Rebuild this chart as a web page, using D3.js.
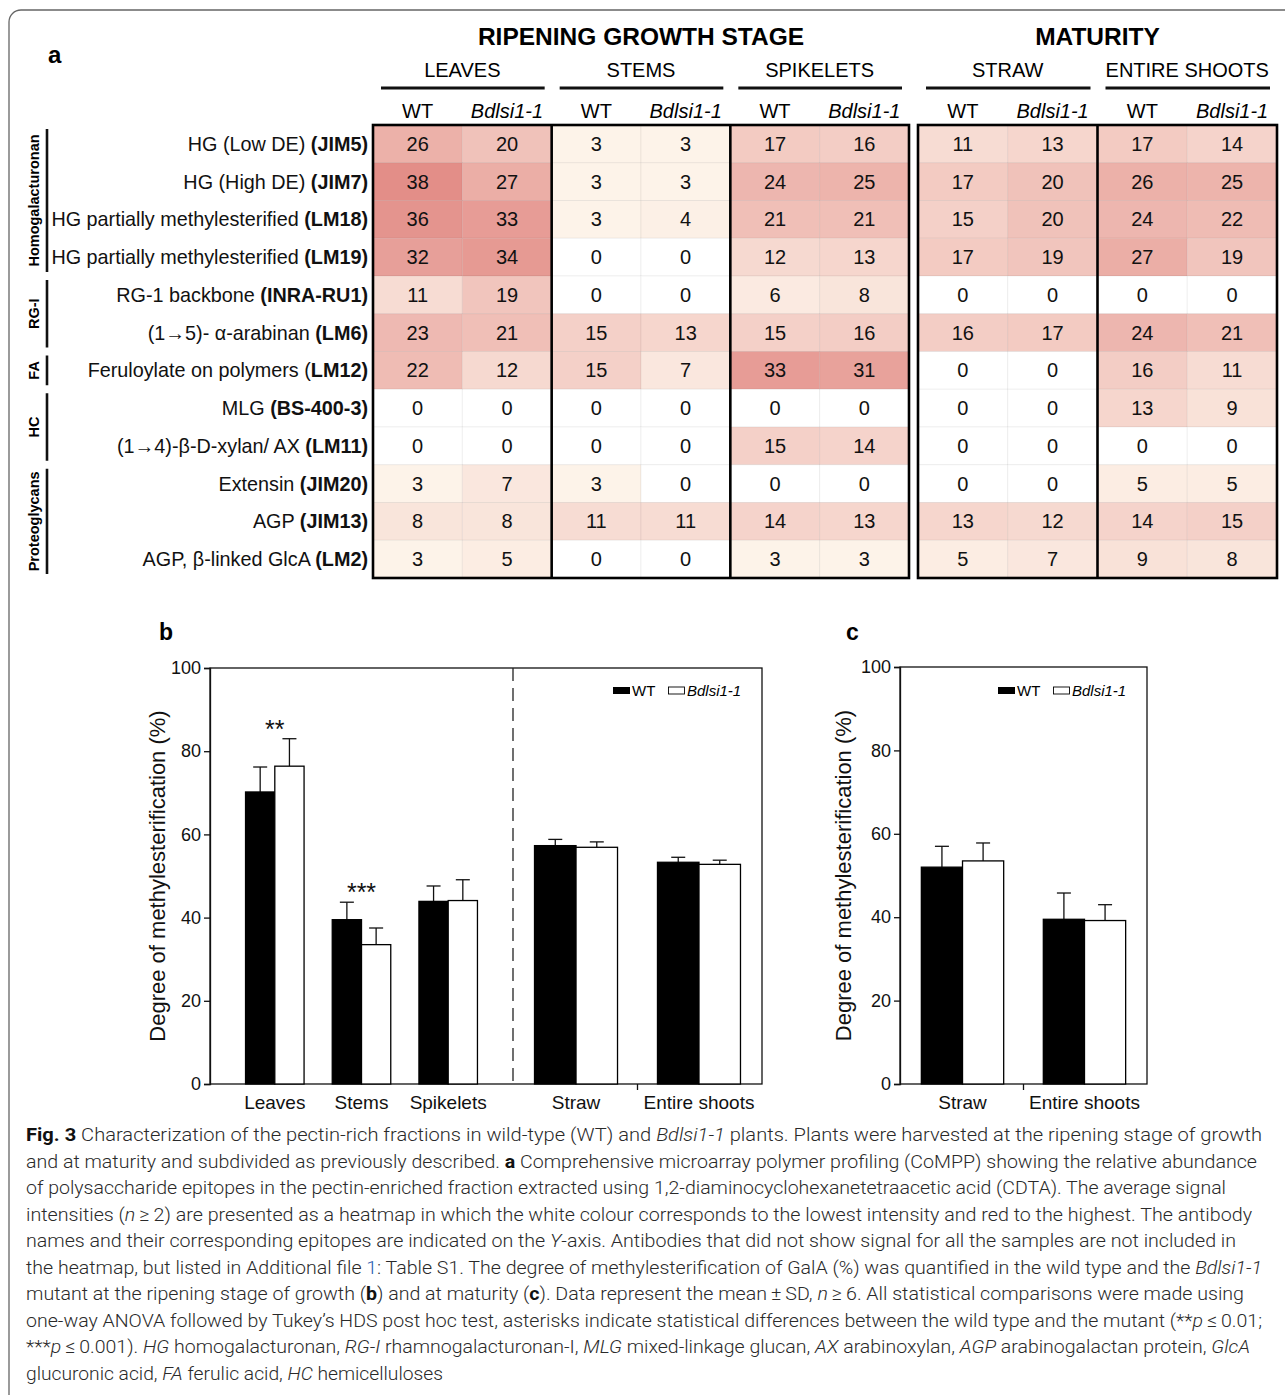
<!DOCTYPE html>
<html><head><meta charset="utf-8">
<script src="https://cdn.jsdelivr.net/npm/d3@7"></script>
<style>body{margin:0;background:#fff} svg{display:block}</style>
</head><body>
<svg id="fig" width="1285" height="1395"></svg>
<script>
// ---------------- DATA ----------------
const stageHeaders = ["RIPENING GROWTH STAGE", "MATURITY"];
const tissuesRip = ["LEAVES", "STEMS", "SPIKELETS"];
const tissuesMat = ["STRAW", "ENTIRE SHOOTS"];
const genotypes = ["WT", "Bdlsi1-1"];
const rowPrefix = ["HG (Low DE) ", "HG (High DE) ", "HG partially methylesterified ", "HG partially methylesterified ",
  "RG-1 backbone ", "(1\u21925)- \u03b1-arabinan ", "Feruloylate on polymers (", "MLG ", "(1\u21924)-\u03b2-D-xylan/ AX ",
  "Extensin ", "AGP ", "AGP, \u03b2-linked GlcA "];
const rowBold = ["(JIM5)", "(JIM7)", "(LM18)", "(LM19)", "(INRA-RU1)", "(LM6)", "LM12)", "(BS-400-3)", "(LM11)",
  "(JIM20)", "(JIM13)", "(LM2)"];
const groupNames = ["Homogalacturonan", "RG-I", "FA", "HC", "Proteoglycans"];
const groupFirstRow = [0, 4, 6, 7, 9];
const groupLastRow = [3, 5, 6, 8, 11];
// columns: Leaves WT, Leaves mut, Stems WT, Stems mut, Spikelets WT, Spikelets mut | Straw WT, Straw mut, Shoots WT, Shoots mut
const heatValues = [
  [26, 20, 3, 3, 17, 16, 11, 13, 17, 14],
  [38, 27, 3, 3, 24, 25, 17, 20, 26, 25],
  [36, 33, 3, 4, 21, 21, 15, 20, 24, 22],
  [32, 34, 0, 0, 12, 13, 17, 19, 27, 19],
  [11, 19, 0, 0, 6, 8, 0, 0, 0, 0],
  [23, 21, 15, 13, 15, 16, 16, 17, 24, 21],
  [22, 12, 15, 7, 33, 31, 0, 0, 16, 11],
  [0, 0, 0, 0, 0, 0, 0, 0, 13, 9],
  [0, 0, 0, 0, 15, 14, 0, 0, 0, 0],
  [3, 7, 3, 0, 0, 0, 0, 0, 5, 5],
  [8, 8, 11, 11, 14, 13, 13, 12, 14, 15],
  [3, 5, 0, 0, 3, 3, 5, 7, 9, 8]
];

const barCatsRip = ["Leaves", "Stems", "Spikelets"];
const barCatsMat = ["Straw", "Entire shoots"];
const bWT = [70.2, 39.5, 43.9, 57.3, 53.3];
const bWTsd = [6.0, 4.2, 3.7, 1.5, 1.2];
const bMut = [76.4, 33.5, 44.1, 56.9, 52.8];
const bMutsd = [6.6, 4.0, 5.0, 1.3, 1.0];
const bSig = ["**", "***", "", "", ""];
const cWT = [52.0, 39.5];
const cWTsd = [5.0, 6.3];
const cMut = [53.5, 39.2];
const cMutsd = [4.3, 3.8];
const yTicks = [0, 20, 40, 60, 80, 100];
const yLabel = "Degree of methylesterification (%)";

const captionLines = [
  [["b", "Fig. 3"], ["n", "  Characterization of the pectin-rich fractions in wild-type (WT) and "], ["i", "Bdlsi1-1"], ["n", " plants. Plants were harvested at the ripening stage of growth"]],
  [["n", "and at maturity and subdivided as previously described. "], ["b", "a"], ["n", " Comprehensive microarray polymer profiling (CoMPP) showing the relative abundance"]],
  [["n", "of polysaccharide epitopes in the pectin-enriched fraction extracted using 1,2-diaminocyclohexanetetraacetic acid (CDTA). The average signal"]],
  [["n", "intensities ("], ["i", "n"], ["n", "\u2009\u2265\u20092) are presented as a heatmap in which the white colour corresponds to the lowest intensity and red to the highest. The antibody"]],
  [["n", "names and their corresponding epitopes are indicated on the "], ["i", "Y"], ["n", "-axis. Antibodies that did not show signal for all the samples are not included in"]],
  [["n", "the heatmap, but listed in Additional file "], ["l", "1"], ["n", ": Table S1. The degree of methylesterification of GalA (%) was quantified in the wild type and the "], ["i", "Bdlsi1-1"]],
  [["n", "mutant at the ripening stage of growth ("], ["b", "b"], ["n", ") and at maturity ("], ["b", "c"], ["n", "). Data represent the mean\u2009\u00b1\u2009SD, "], ["i", "n"], ["n", "\u2009\u2265\u20096. All statistical comparisons were made using"]],
  [["n", "one-way ANOVA followed by Tukey\u2019s HDS post hoc test, asterisks indicate statistical differences between the wild type and the mutant (**"], ["i", "p"], ["n", "\u2009\u2264\u20090.01;"]],
  [["n", "***"], ["i", "p"], ["n", "\u2009\u2264\u20090.001). "], ["i", "HG"], ["n", " homogalacturonan, "], ["i", "RG-I"], ["n", " rhamnogalacturonan-I, "], ["i", "MLG"], ["n", " mixed-linkage glucan, "], ["i", "AX"], ["n", " arabinoxylan, "], ["i", "AGP"], ["n", " arabinogalactan protein, "], ["i", "GlcA"]],
  [["n", "glucuronic acid, "], ["i", "FA"], ["n", " ferulic acid, "], ["i", "HC"], ["n", " hemicelluloses"]]
];
const captionLineEnds = [1262, 1257, 1226, 1252, 1236, 1262, 1244, 1262, 1250, 443];

// ---------------- DRAWING ----------------
const svg = d3.select("#fig");
const FONT = "'Liberation Sans', Arial, Helvetica, sans-serif";
svg.attr("font-family", FONT);

// outer frame
svg.append("rect").attr("x", 9).attr("y", 10).attr("width", 1320).attr("height", 1420)
  .attr("rx", 12).attr("fill", "none").attr("stroke", "#666").attr("stroke-width", 1.3);

// ---------- heatmap (a) ----------
const hm = svg.append("g");
const xRip = d3.scaleBand().domain(d3.range(6)).range([373, 909]);
const xMat = d3.scaleBand().domain(d3.range(4)).range([918, 1277]);
const colX = c => c < 6 ? xRip(c) : xMat(c - 6);
const colW = c => c < 6 ? xRip.bandwidth() : xMat.bandwidth();
const yRow = d3.scaleBand().domain(d3.range(heatValues.length)).range([125, 578]);
const color = d3.scaleLinear().domain([0, 3, 38]).range(["#ffffff", "#fdf3e9", "#e38e88"]);

hm.append("text").attr("x", 48).attr("y", 63).attr("font-size", 24).attr("font-weight", "bold").text("a");

heatValues.forEach((row, r) => {
  row.forEach((v, c) => {
    hm.append("rect").attr("x", colX(c)).attr("y", yRow(r)).attr("width", colW(c)).attr("height", yRow.bandwidth())
      .attr("fill", color(v)).attr("stroke", "rgba(0,0,0,0.05)").attr("stroke-width", 1);
    hm.append("text").attr("x", colX(c) + colW(c) / 2).attr("y", yRow(r) + yRow.bandwidth() / 2 + 7)
      .attr("text-anchor", "middle").attr("font-size", 20).attr("fill", "#111").text(v);
  });
  const t = hm.append("text").attr("x", 368).attr("y", yRow(r) + yRow.bandwidth() / 2 + 7)
    .attr("text-anchor", "end").attr("font-size", 19.8).attr("fill", "#111");
  t.append("tspan").text(rowPrefix[r]);
  t.append("tspan").attr("font-weight", "bold").text(rowBold[r]);
});

// boxes
const boxStroke = 2.6;
hm.append("rect").attr("x", xRip(0)).attr("y", yRow.range()[0]).attr("width", xRip.range()[1] - xRip(0))
  .attr("height", yRow.range()[1] - yRow.range()[0]).attr("fill", "none").attr("stroke", "#000").attr("stroke-width", boxStroke);
hm.append("rect").attr("x", xMat(0)).attr("y", yRow.range()[0]).attr("width", xMat.range()[1] - xMat(0))
  .attr("height", yRow.range()[1] - yRow.range()[0]).attr("fill", "none").attr("stroke", "#000").attr("stroke-width", boxStroke);
[xRip(2), xRip(4), xMat(2)].forEach(x => {
  hm.append("line").attr("x1", x).attr("x2", x).attr("y1", yRow.range()[0]).attr("y2", yRow.range()[1])
    .attr("stroke", "#000").attr("stroke-width", boxStroke);
});

// headers
hm.append("text").attr("x", (xRip(0) + xRip.range()[1]) / 2).attr("y", 45).attr("text-anchor", "middle")
  .attr("font-size", 24.5).attr("font-weight", "bold").text(stageHeaders[0]);
hm.append("text").attr("x", (xMat(0) + xMat.range()[1]) / 2).attr("y", 45).attr("text-anchor", "middle")
  .attr("font-size", 24.5).attr("font-weight", "bold").text(stageHeaders[1]);
const tissueAll = tissuesRip.concat(tissuesMat);
tissueAll.forEach((name, i) => {
  const c0 = i * 2;
  const x0 = colX(c0), x1 = colX(c0 + 1) + colW(c0 + 1);
  hm.append("text").attr("x", (x0 + x1) / 2).attr("y", 77).attr("text-anchor", "middle").attr("font-size", 20).text(name);
  hm.append("line").attr("x1", x0 + 8).attr("x2", x1 - 7).attr("y1", 88).attr("y2", 88).attr("stroke", "#111").attr("stroke-width", 3);
  genotypes.forEach((gname, k) => {
    const c = c0 + k;
    hm.append("text").attr("x", colX(c) + colW(c) / 2).attr("y", 118).attr("text-anchor", "middle").attr("font-size", 20)
      .attr("font-style", k === 1 ? "italic" : "normal").text(gname);
  });
});

// group labels
groupNames.forEach((name, i) => {
  const y0 = yRow(groupFirstRow[i]) + 4, y1 = yRow(groupLastRow[i]) + yRow.bandwidth() - 4;
  hm.append("line").attr("x1", 47).attr("x2", 47).attr("y1", y0).attr("y2", y1).attr("stroke", "#111").attr("stroke-width", 2.6);
  hm.append("text").attr("transform", `translate(39,${(y0 + y1) / 2}) rotate(-90)`).attr("text-anchor", "middle")
    .attr("font-size", 14.5).attr("font-weight", "bold").text(name);
});

// ---------- bar charts ----------
function legend(g, x, y) {
  g.append("rect").attr("x", x).attr("y", y - 3).attr("width", 17).attr("height", 7).attr("fill", "#000");
  g.append("text").attr("x", x + 19).attr("y", y + 5.5).attr("font-size", 15).text(genotypes[0]);
  g.append("rect").attr("x", x + 55.5).attr("y", y - 3).attr("width", 16).attr("height", 7).attr("fill", "#fff").attr("stroke", "#000").attr("stroke-width", 0.9);
  g.append("text").attr("x", x + 74).attr("y", y + 5.5).attr("font-size", 15).attr("font-style", "italic").text(genotypes[1]);
}

function drawPanel(opts) {
  const g = svg.append("g");
  const y = d3.scaleLinear().domain([0, 100]).range([opts.bottom, opts.top]);
  // frame
  g.append("rect").attr("x", opts.left).attr("y", opts.top).attr("width", opts.right - opts.left).attr("height", opts.bottom - opts.top)
    .attr("fill", "none").attr("stroke", "#111").attr("stroke-width", 1.3);
  const ax = g.append("g").attr("transform", `translate(${opts.left},0)`)
    .call(d3.axisLeft(y).tickValues(yTicks).tickSize(6).tickPadding(3));
  ax.select(".domain").attr("stroke", "#111").attr("stroke-width", 1.3);
  ax.selectAll(".tick line").attr("stroke", "#111").attr("stroke-width", 1.3);
  ax.selectAll("text").attr("font-size", 18).attr("font-family", FONT).attr("fill", "#111");
  g.append("text").attr("transform", `translate(${opts.titleX},${(opts.top + opts.bottom) / 2}) rotate(-90)`)
    .attr("text-anchor", "middle").attr("font-size", 22).attr("fill", "#111").text(yLabel);
  g.append("text").attr("x", opts.letterX).attr("y", 640).attr("font-size", 23).attr("font-weight", "bold").text(opts.letter);

  opts.sections.forEach(sec => {
    const xb = d3.scaleBand().domain(sec.cats).range(sec.range).paddingInner(0.325).paddingOuter(sec.po).align(0.5);
    const xs = d3.scaleBand().domain(genotypes).range([0, xb.bandwidth()]);
    sec.cats.forEach((cat, i) => {
      const vals = [sec.wt[i], sec.mut[i]], sds = [sec.wtsd[i], sec.mutsd[i]];
      genotypes.forEach((gn, k) => {
        const bx = xb(cat) + xs(gn);
        // error bar (upper only)
        const cx = bx + xs.bandwidth() / 2;
        g.append("line").attr("x1", cx).attr("x2", cx).attr("y1", y(vals[k])).attr("y2", y(vals[k] + sds[k])).attr("stroke", "#111").attr("stroke-width", 1.3);
        g.append("line").attr("x1", cx - 7).attr("x2", cx + 7).attr("y1", y(vals[k] + sds[k])).attr("y2", y(vals[k] + sds[k])).attr("stroke", "#111").attr("stroke-width", 1.3);
        g.append("rect").attr("x", bx).attr("y", y(vals[k])).attr("width", xs.bandwidth()).attr("height", y(0) - y(vals[k]))
          .attr("fill", k === 0 ? "#000" : "#fff").attr("stroke", "#000").attr("stroke-width", 1.3);
      });
      g.append("text").attr("x", xb(cat) + xb.bandwidth() / 2).attr("y", opts.bottom + 25).attr("text-anchor", "middle")
        .attr("font-size", 19).attr("fill", "#111").text(cat);
      if (sec.sig && sec.sig[i]) {
        const top = Math.max(vals[0] + sds[0], vals[1] + sds[1]);
        g.append("text").attr("x", xb(cat) + xb.bandwidth() / 2).attr("y", y(top) - 1).attr("text-anchor", "middle")
          .attr("font-size", 25).attr("fill", "#111").text(sec.sig[i]);
      }
    });
    // ticks between categories
    for (let i = 1; i < sec.cats.length && sec.ticks; i++) {
      const tx = (xb(sec.cats[i - 1]) + xb.bandwidth() + xb(sec.cats[i])) / 2;
      g.append("line").attr("x1", tx).attr("x2", tx).attr("y1", opts.bottom).attr("y2", opts.bottom + 6).attr("stroke", "#111").attr("stroke-width", 1.3);
    }
  });
  if (opts.divider) {
    g.append("line").attr("x1", opts.divider).attr("x2", opts.divider).attr("y1", opts.top).attr("y2", opts.bottom)
      .attr("stroke", "#222").attr("stroke-width", 1.3).attr("stroke-dasharray", "13,7");
  }
  legend(g, opts.legendX, 690);
}

drawPanel({
  left: 210, right: 762, top: 668, bottom: 1084, titleX: 165, letter: "b", letterX: 159, divider: 513, legendX: 613,
  sections: [
    { cats: barCatsRip, range: [210, 513], po: 0.41, wt: bWT.slice(0, 3), wtsd: bWTsd.slice(0, 3), mut: bMut.slice(0, 3), mutsd: bMutsd.slice(0, 3), sig: bSig.slice(0, 3), ticks: false },
    { cats: barCatsMat, range: [513, 762], po: 0.175, wt: bWT.slice(3), wtsd: bWTsd.slice(3), mut: bMut.slice(3), mutsd: bMutsd.slice(3), sig: bSig.slice(3), ticks: true }
  ]
});
drawPanel({
  left: 900, right: 1147, top: 667, bottom: 1084, titleX: 851, letter: "c", letterX: 846, divider: null, legendX: 998,
  sections: [
    { cats: barCatsMat, range: [900, 1147], po: 0.175, wt: cWT, wtsd: cWTsd, mut: cMut, mutsd: cMutsd, sig: null, ticks: true }
  ]
});

// ---------- caption ----------
const cap = svg.append("g").attr("font-family", "Roboto, 'Open Sans', sans-serif").attr("font-size", 19)
  .attr("font-weight", 300).attr("fill", "#2a2a2a");
captionLines.forEach((segs, i) => {
  const t = cap.append("text").attr("x", 26).attr("y", 1141 + i * 26.5)
    .attr("textLength", captionLineEnds[i] - 26).attr("lengthAdjust", "spacingAndGlyphs");
  segs.forEach(([st, txt]) => {
    const sp = t.append("tspan").text(txt);
    if (st === "b") sp.attr("font-weight", "bold").attr("fill", "#111");
    if (st === "i") sp.attr("font-style", "italic");
    if (st === "l") sp.attr("fill", "#2a5db0");
  });
});
</script>
</body></html>
